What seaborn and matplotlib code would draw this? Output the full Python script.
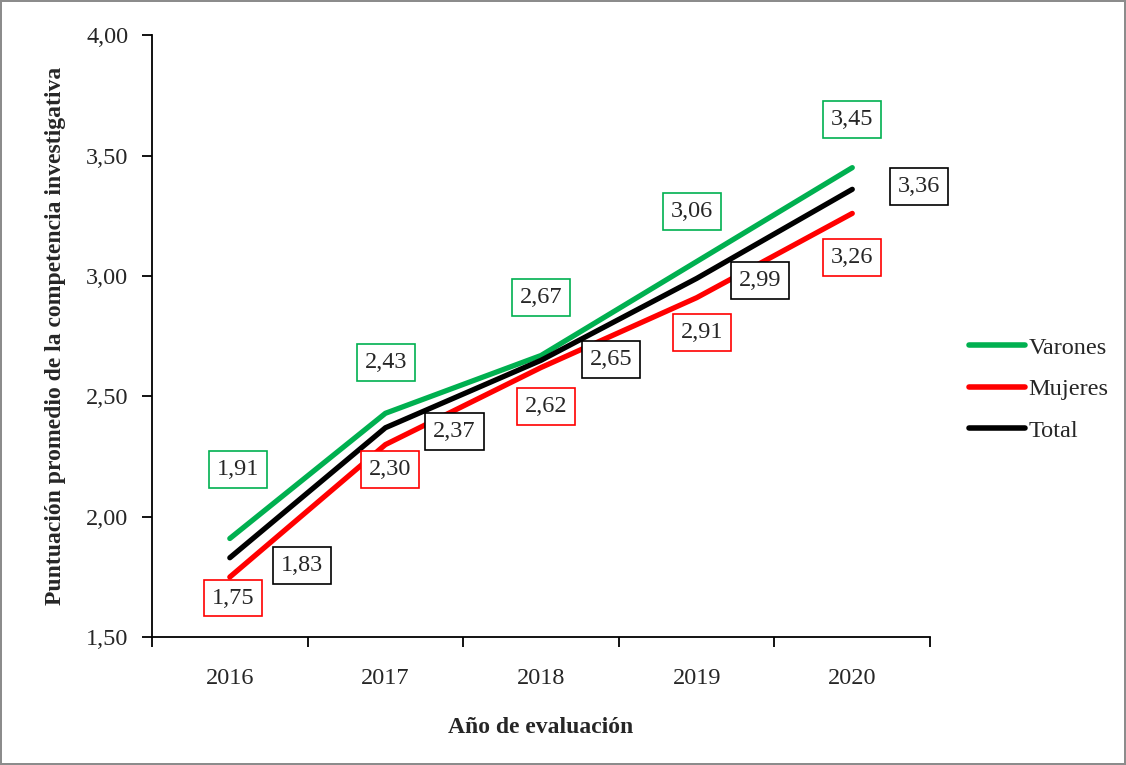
import numpy as np
import pandas as pd
import matplotlib.pyplot as plt
import seaborn as sns

# data
years = ['2016', '2017', '2018', '2019', '2020']
varones = [1.91, 2.43, 2.67, 3.06, 3.45]
mujeres = [1.75, 2.30, 2.62, 2.91, 3.26]
total = [1.83, 2.37, 2.65, 2.99, 3.36]
series_names = ['Varones', 'Mujeres', 'Total']
y_ticks = [1.5, 2.0, 2.5, 3.0, 3.5, 4.0]

# label offsets in pixels (layout only)
label_offsets = {
    'Varones': [(8, 69), (1, 51), (0, 58), (-5, 50), (0, 48)],
    'Mujeres': [(3, -21), (5, -25), (5, -39), (5, -35), (0, -44)],
    'Total': [(72, -8), (69, -4), (70, 1), (63, -2), (67, 3)],
}
colors = {'Varones': '#00B050', 'Mujeres': '#FF0000', 'Total': '#000000'}

df = pd.DataFrame({
    'year': years * 3,
    'x': list(range(len(years))) * 3,
    'value': varones + mujeres + total,
    'serie': np.repeat(series_names, len(years)),
})

sns.set_style('white')
plt.rcParams['font.family'] = ['Liberation Serif', 'DejaVu Serif']
fs = 17.5

fig = plt.figure(figsize=(11.26, 7.65), dpi=100)
fig.patch.set_edgecolor('#8c8c8c')
fig.patch.set_linewidth(1.5)
ax = fig.add_axes([0.135, 0.167, 0.691, 0.787])

sns.lineplot(data=df, x='x', y='value', hue='serie', palette=colors,
             hue_order=series_names, linewidth=3.8, ax=ax, legend=True)

for name in series_names:
    sub = df[df['serie'] == name]
    for (xv, yv), (dx, dy) in zip(zip(sub['x'], sub['value']), label_offsets[name]):
        ax.annotate(f'{yv:.2f}'.replace('.', ','), (xv, yv), xytext=(dx, dy),
                    textcoords='offset pixels', ha='center', va='center',
                    fontsize=fs,
                    bbox=dict(boxstyle='square,pad=0.32', fc='white',
                              ec=colors[name], lw=1.2))

ax.set_xlim(-0.5, len(years) - 0.5)
ax.set_ylim(1.5, 4.0)
ax.set_yticks(y_ticks)
ax.set_yticklabels([f'{t:.2f}'.replace('.', ',') for t in y_ticks], fontsize=fs)
ax.set_xticks(range(len(years)))
ax.set_xticklabels(years, fontsize=fs)
ax.set_xticks(np.arange(-0.5, len(years), 1), minor=True)
ax.tick_params(axis='x', which='major', bottom=True, length=0, pad=22)
ax.tick_params(axis='x', which='minor', bottom=True, length=7, width=1.3,
               direction='out', color='black')
ax.tick_params(axis='y', left=True, length=7, width=1.3, direction='out',
               pad=10, color='black')

for side in ['top', 'right']:
    ax.spines[side].set_visible(False)
for side in ['left', 'bottom']:
    ax.spines[side].set_color('black')
    ax.spines[side].set_linewidth(1.3)

ax.set_xlabel('Año de evaluación', fontsize=17, fontweight='bold', labelpad=20)
ax.set_ylabel('Puntuación promedio de la competencia investigativa',
              fontsize=17, fontweight='bold', labelpad=14)

leg = ax.legend(loc='center left', bbox_to_anchor=(1.05, 0.412), frameon=False,
                fontsize=fs, handlelength=2.3, handletextpad=0.15,
                labelspacing=0.8, borderpad=0, borderaxespad=0)
for line in leg.get_lines():
    line.set_linewidth(4)

fig.savefig('out.png', dpi=100)
